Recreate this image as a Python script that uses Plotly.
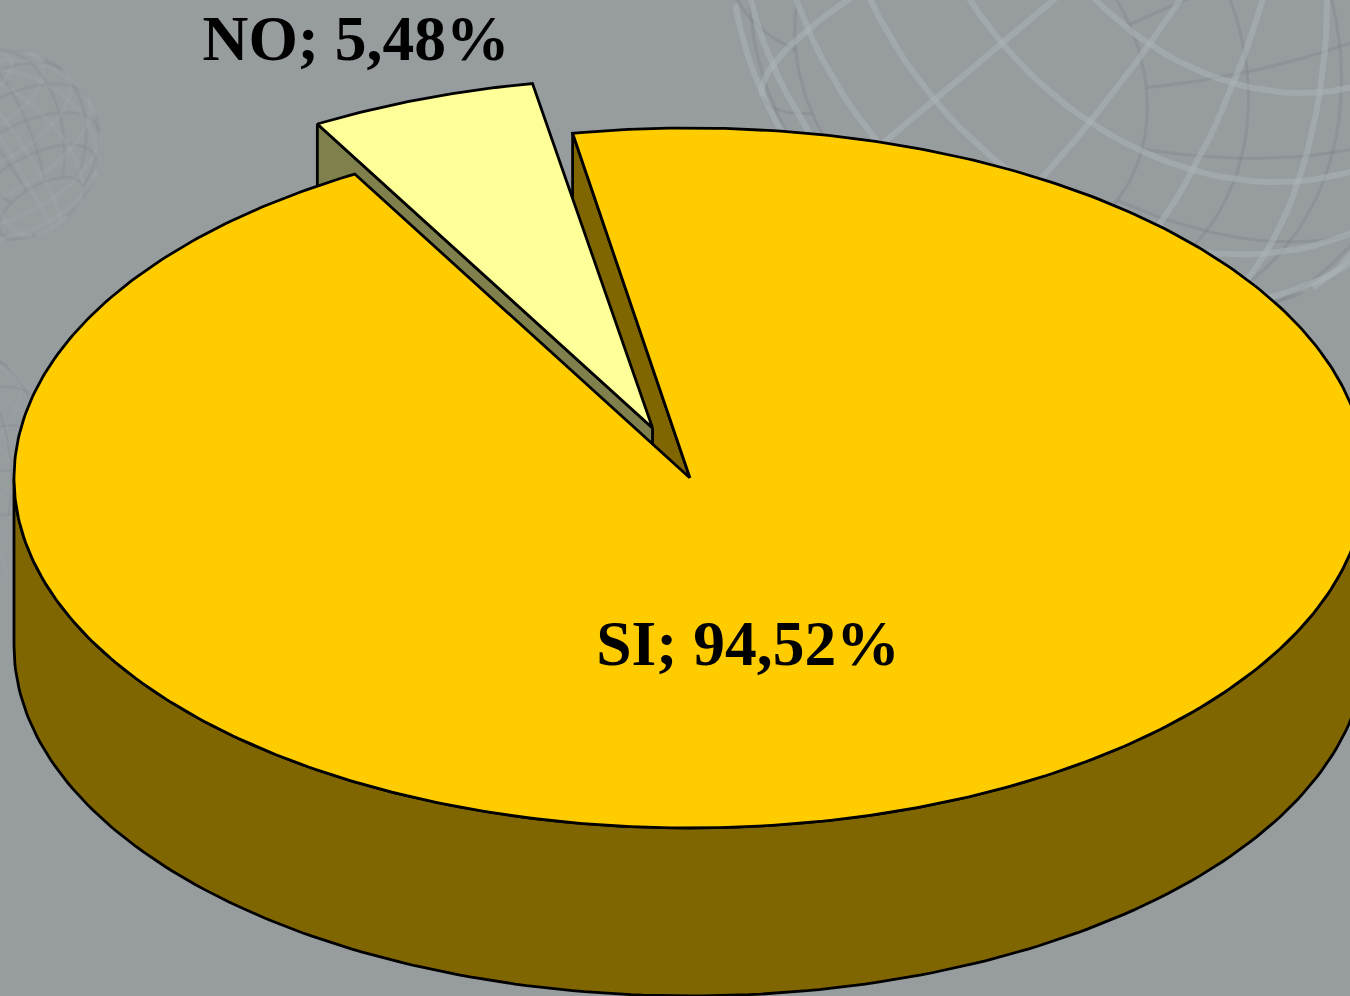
import numpy as np
import plotly.graph_objects as go

# ---- data ----
categories = ["SI", "NO"]
values = [94.52, 5.48]

# ---- style ----
W, H = 1350, 996
BG = "#979c9f"
TOP = {"SI": "#FFCC00", "NO": "#FFFF99"}
SIDE = {"SI": "#806600", "NO": "#80804D"}
CX, CY, RX, RY, DEPTH = 690, 478, 676, 350, 168
START_DEG = -10
EXPLODE_X, EXPLODE_Y = 0.163, 0.152
LW = 2.8
LABEL_POS = {"SI": (748, 649), "NO": (356, 44)}
LABEL_SIZE = 63.5


def rim(t_deg, cx=CX, cy=CY):
    t = np.radians(t_deg)
    return cx + RX * np.sin(t), cy - RY * np.cos(t)


def poly(fig, xs, ys, fill, line="black", width=LW):
    fig.add_trace(go.Scatter(
        x=list(xs), y=list(ys), mode="lines", fill="toself", fillcolor=fill,
        line=dict(color=line, width=width), hoverinfo="skip", showlegend=False))


def globe(fig, cx, cy, r, pole_from_view, pole_dir, lat_step, lon_step,
          light, dark, wl, wd):
    """Faint decorative wire globe of the slide background."""
    a = np.radians(pole_from_view)
    b = np.radians(pole_dir)

    def proj(lat, lon):
        x = np.cos(lat) * np.sin(lon)
        y = np.cos(lat) * np.cos(lon)
        z = np.sin(lat)
        y2 = y * np.cos(a) + z * np.sin(a)
        z2 = -y * np.sin(a) + z * np.cos(a)
        x3 = x * np.cos(b) - y2 * np.sin(b)
        y3 = x * np.sin(b) + y2 * np.cos(b)
        return cx + r * x3, cy - r * y3, z2

    curves = []
    for lat in np.radians(np.arange(-60, 90, lat_step)):
        curves.append(proj(lat, np.radians(np.arange(-180, 181, 3.0))))
    for lon in np.radians(np.arange(-180, 180, lon_step)):
        curves.append(proj(np.radians(np.arange(-60, 91, 3.0)), lon))

    for front, col, w in ((False, dark, wd), (True, light, wl)):
        xs, ys = [], []
        for x, y, z in curves:
            mask = (z >= 0) if front else (z < 0)
            xs += list(np.where(mask, x, np.nan)) + [None]
            ys += list(np.where(mask, y, np.nan)) + [None]
        fig.add_trace(go.Scatter(x=xs, y=ys, mode="lines", connectgaps=False,
                                 line=dict(color=col, width=w),
                                 hoverinfo="skip", showlegend=False))


fig = go.Figure()

# background globes
globe(fig, 1125, -60, 395, 36, -50, 15, 20,
      "rgba(172,180,184,0.55)", "rgba(122,127,131,0.30)", 6, 3)
globe(fig, 5, 145, 95, 62, 30, 20, 25,
      "rgba(172,180,184,0.18)", "rgba(122,127,131,0.18)", 4, 3)
globe(fig, -70, 470, 130, 62, 30, 20, 25,
      "rgba(172,180,184,0.10)", "rgba(122,127,131,0.22)", 3, 2)

# slice angles from the values
si_sweep = values[0] / 100 * 360
no_sweep = values[1] / 100 * 360
si_a0, si_a1 = START_DEG, START_DEG + si_sweep
no_a0, no_a1 = si_a1, si_a1 + no_sweep
no_mid = (no_a0 + no_a1) / 2
ox, oy = rim(no_mid, 0, 0)
NX, NY = CX + EXPLODE_X * ox, CY + EXPLODE_Y * oy

# SI: inner cut face
px, py = rim(si_a0)
poly(fig, [CX, px, px, CX, CX], [CY, py, py + DEPTH, CY + DEPTH, CY], SIDE["SI"])

# NO: visible cut face and top
qx, qy = rim(no_a0, NX, NY)
poly(fig, [NX, qx, qx, NX, NX], [NY, qy, qy + DEPTH, NY + DEPTH, NY], SIDE["NO"])
arc = np.arange(no_a0, no_a1 + 0.01, 0.5)
ax, ay = rim(arc, NX, NY)
poly(fig, [NX, *ax, NX], [NY, *ay, NY], TOP["NO"])

# SI: outer wall
arc = np.linspace(90, 270, 181)
ax, ay = rim(arc)
poly(fig, [*ax, *ax[::-1]], [*ay, *(ay[::-1] + DEPTH)], SIDE["SI"])

# SI: top
arc = np.linspace(si_a0, si_a1, 500)
ax, ay = rim(arc)
poly(fig, [CX, *ax, CX], [CY, *ay, CY], TOP["SI"])

# labels
for c, v in zip(categories, values):
    lx, ly = LABEL_POS[c]
    fig.add_trace(go.Scatter(
        x=[lx], y=[ly], mode="text", text=[f"{c}; {v:.2f}%".replace(".", ",")],
        textposition="middle center",
        textfont=dict(family="Liberation Serif", size=LABEL_SIZE, color="black", weight="bold"),
        hoverinfo="skip", showlegend=False))

fig.update_layout(
    width=W, height=H, autosize=False, margin=dict(l=0, r=0, t=0, b=0),
    paper_bgcolor=BG, plot_bgcolor=BG, showlegend=False,
    xaxis=dict(range=[0, W], visible=False, fixedrange=True),
    yaxis=dict(range=[H, 0], visible=False, fixedrange=True),
)
fig.write_html("out.html", config={"displayModeBar": False},
               post_script="document.body.style.margin='0';document.body.style.overflow='hidden';")
